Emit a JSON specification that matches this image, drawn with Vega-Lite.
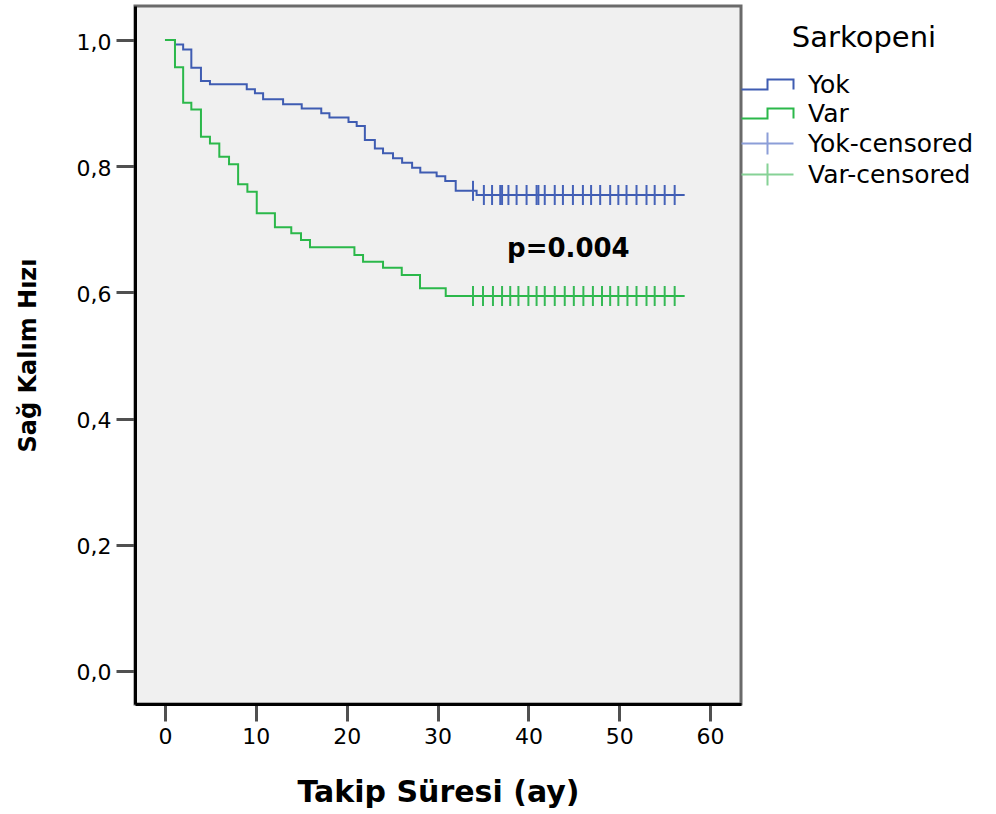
{
  "$schema": "https://vega.github.io/schema/vega-lite/v6.json",
  "autosize": {"type": "none"},
  "width": 606,
  "height": 698,
  "padding": {"left": 135, "top": 6, "right": 255, "bottom": 110},
  "background": "white",
  "config": {
    "view": {"fill": "#f0f0f0", "stroke": "#6a6a6a", "strokeWidth": 3},
    "axis": {
      "domainColor": "black", "domainWidth": 3,
      "tickColor": "#505050", "tickWidth": 3,
      "labelFont": "DejaVu Sans", "labelFontSize": 22, "labelColor": "black",
      "titleFont": "DejaVu Sans", "titleFontWeight": "bold", "titleColor": "black",
      "grid": false, "labelFlush": false, "labelOverlap": false
    }
  },
  "datasets": {
    "curves": [
      {"t": 0, "s": 1.0, "series": "Yok"},
      {"t": 1.1, "s": 0.993, "series": "Yok"},
      {"t": 2.0, "s": 0.985, "series": "Yok"},
      {"t": 2.9, "s": 0.956, "series": "Yok"},
      {"t": 3.96, "s": 0.935, "series": "Yok"},
      {"t": 4.95, "s": 0.930, "series": "Yok"},
      {"t": 9.0, "s": 0.922, "series": "Yok"},
      {"t": 9.9, "s": 0.9155, "series": "Yok"},
      {"t": 10.8, "s": 0.906, "series": "Yok"},
      {"t": 13.0, "s": 0.898, "series": "Yok"},
      {"t": 15.05, "s": 0.8916, "series": "Yok"},
      {"t": 17.2, "s": 0.884, "series": "Yok"},
      {"t": 18.1, "s": 0.877, "series": "Yok"},
      {"t": 20.2, "s": 0.870, "series": "Yok"},
      {"t": 21.1, "s": 0.8637, "series": "Yok"},
      {"t": 22.0, "s": 0.8415, "series": "Yok"},
      {"t": 23.1, "s": 0.828, "series": "Yok"},
      {"t": 24.0, "s": 0.8205, "series": "Yok"},
      {"t": 25.1, "s": 0.8125, "series": "Yok"},
      {"t": 26.1, "s": 0.8056, "series": "Yok"},
      {"t": 27.2, "s": 0.7977, "series": "Yok"},
      {"t": 28.1, "s": 0.790, "series": "Yok"},
      {"t": 29.9, "s": 0.784, "series": "Yok"},
      {"t": 30.85, "s": 0.7765, "series": "Yok"},
      {"t": 32.0, "s": 0.761, "series": "Yok"},
      {"t": 34.3, "s": 0.7544, "series": "Yok"},
      {"t": 57.2, "s": 0.7544, "series": "Yok"},
      {"t": 0, "s": 1.0, "series": "Var"},
      {"t": 1.1, "s": 0.957, "series": "Var"},
      {"t": 2.0, "s": 0.9007, "series": "Var"},
      {"t": 2.9, "s": 0.890, "series": "Var"},
      {"t": 3.96, "s": 0.8468, "series": "Var"},
      {"t": 4.95, "s": 0.836, "series": "Var"},
      {"t": 5.98, "s": 0.815, "series": "Var"},
      {"t": 7.05, "s": 0.803, "series": "Var"},
      {"t": 8.05, "s": 0.7713, "series": "Var"},
      {"t": 9.07, "s": 0.7596, "series": "Var"},
      {"t": 10.1, "s": 0.7253, "series": "Var"},
      {"t": 12.1, "s": 0.7031, "series": "Var"},
      {"t": 13.9, "s": 0.6936, "series": "Var"},
      {"t": 14.97, "s": 0.683, "series": "Var"},
      {"t": 15.96, "s": 0.6714, "series": "Var"},
      {"t": 20.85, "s": 0.6593, "series": "Var"},
      {"t": 21.8, "s": 0.6487, "series": "Var"},
      {"t": 24.0, "s": 0.6392, "series": "Var"},
      {"t": 26.06, "s": 0.6276, "series": "Var"},
      {"t": 28.07, "s": 0.6065, "series": "Var"},
      {"t": 30.9, "s": 0.5943, "series": "Var"},
      {"t": 57.2, "s": 0.5943, "series": "Var"}
    ],
    "censored": [
      {"t": 33.9, "s": 0.761, "series": "Yok-censored"},
      {"t": 35.1, "s": 0.7544, "series": "Yok-censored"},
      {"t": 36.0, "s": 0.7544, "series": "Yok-censored"},
      {"t": 36.9, "s": 0.7544, "series": "Yok-censored"},
      {"t": 37.1, "s": 0.7544, "series": "Yok-censored"},
      {"t": 37.8, "s": 0.7544, "series": "Yok-censored"},
      {"t": 38.7, "s": 0.7544, "series": "Yok-censored"},
      {"t": 39.8, "s": 0.7544, "series": "Yok-censored"},
      {"t": 40.9, "s": 0.7544, "series": "Yok-censored"},
      {"t": 41.1, "s": 0.7544, "series": "Yok-censored"},
      {"t": 41.8, "s": 0.7544, "series": "Yok-censored"},
      {"t": 42.9, "s": 0.7544, "series": "Yok-censored"},
      {"t": 43.8, "s": 0.7544, "series": "Yok-censored"},
      {"t": 44.9, "s": 0.7544, "series": "Yok-censored"},
      {"t": 46.0, "s": 0.7544, "series": "Yok-censored"},
      {"t": 46.9, "s": 0.7544, "series": "Yok-censored"},
      {"t": 47.9, "s": 0.7544, "series": "Yok-censored"},
      {"t": 49.0, "s": 0.7544, "series": "Yok-censored"},
      {"t": 49.9, "s": 0.7544, "series": "Yok-censored"},
      {"t": 50.8, "s": 0.7544, "series": "Yok-censored"},
      {"t": 51.9, "s": 0.7544, "series": "Yok-censored"},
      {"t": 53.0, "s": 0.7544, "series": "Yok-censored"},
      {"t": 53.9, "s": 0.7544, "series": "Yok-censored"},
      {"t": 55.0, "s": 0.7544, "series": "Yok-censored"},
      {"t": 56.1, "s": 0.7544, "series": "Yok-censored"},
      {"t": 33.9, "s": 0.5943, "series": "Var-censored"},
      {"t": 35.0, "s": 0.5943, "series": "Var-censored"},
      {"t": 36.1, "s": 0.5943, "series": "Var-censored"},
      {"t": 37.1, "s": 0.5943, "series": "Var-censored"},
      {"t": 38.0, "s": 0.5943, "series": "Var-censored"},
      {"t": 38.9, "s": 0.5943, "series": "Var-censored"},
      {"t": 40.0, "s": 0.5943, "series": "Var-censored"},
      {"t": 40.9, "s": 0.5943, "series": "Var-censored"},
      {"t": 41.8, "s": 0.5943, "series": "Var-censored"},
      {"t": 42.9, "s": 0.5943, "series": "Var-censored"},
      {"t": 44.0, "s": 0.5943, "series": "Var-censored"},
      {"t": 45.0, "s": 0.5943, "series": "Var-censored"},
      {"t": 46.05, "s": 0.5943, "series": "Var-censored"},
      {"t": 47.1, "s": 0.5943, "series": "Var-censored"},
      {"t": 48.1, "s": 0.5943, "series": "Var-censored"},
      {"t": 49.0, "s": 0.5943, "series": "Var-censored"},
      {"t": 49.9, "s": 0.5943, "series": "Var-censored"},
      {"t": 50.9, "s": 0.5943, "series": "Var-censored"},
      {"t": 51.9, "s": 0.5943, "series": "Var-censored"},
      {"t": 53.0, "s": 0.5943, "series": "Var-censored"},
      {"t": 53.9, "s": 0.5943, "series": "Var-censored"},
      {"t": 55.0, "s": 0.5943, "series": "Var-censored"},
      {"t": 56.1, "s": 0.5943, "series": "Var-censored"}
    ],
    "annot": [{"t": 44.4, "s": 0.6566, "label": "p=0.004"}]
  },
  "layer": [
    {
      "data": {"name": "curves"},
      "mark": {"type": "line", "interpolate": "step-after", "strokeWidth": 2},
      "encoding": {
        "x": {
          "field": "t", "type": "quantitative",
          "scale": {"domain": [-3.3, 63.4], "nice": false, "zero": false},
          "axis": {
            "values": [0, 10, 20, 30, 40, 50, 60], "tickSize": 17, "labelPadding": 5,
            "title": "Takip Süresi (ay)", "titleFontSize": 30,
            "titleBaseline": "alphabetic", "titleY": 97
          }
        },
        "y": {
          "field": "s", "type": "quantitative",
          "scale": {"domain": [-0.0523, 1.0539], "nice": false, "zero": false},
          "axis": {
            "values": [0, 0.2, 0.4, 0.6, 0.8, 1.0], "tickSize": 19, "labelPadding": 5, "labelOffset": 2,
            "labelExpr": "replace(format(datum.value, '.1f'), '.', ',')",
            "title": "Sağ Kalım Hızı", "titleFontSize": 24,
            "titleBaseline": "alphabetic", "titleX": -100, "titleY": 349
          }
        },
        "color": {
          "field": "series", "type": "nominal",
          "scale": {
            "domain": ["Yok", "Var", "Yok-censored", "Var-censored"],
            "range": ["#3f5cb2", "#2bb84a", "#8c9ed8", "#86d296"]
          },
          "legend": {
            "title": "Sarkopeni",
            "orient": "none", "legendX": 620, "legendY": 18,
            "padding": 0,
            "titleFont": "DejaVu Sans", "titleFontSize": 29, "titleFontWeight": "normal", "titleColor": "black",
            "titleAnchor": "middle", "titlePadding": 19,
            "labelFont": "DejaVu Sans", "labelFontSize": 25, "labelColor": "black", "labelOffset": 28, "labelLimit": 400,
            "symbolSize": 400, "symbolStrokeWidth": 2, "rowPadding": 0,
            "encode": {
              "symbols": {
                "update": {
                  "shape": {"signal": "indexof(datum.value, 'censored') >= 0 ? 'M-2.6,0L2.6,0M0,-1.1L0,1.1' : 'M0,-1M0,1M-2.6,0.5L0,0.5L0,-0.5L2.6,-0.5L2.6,0.5'"},
                  "fillOpacity": {"value": 0},
                  "strokeWidth": {"value": 2}
                }
              }
            }
          }
        }
      }
    },
    {
      "data": {"name": "censored"},
      "mark": {"type": "tick", "size": 20, "thickness": 2, "opacity": 1},
      "encoding": {
        "x": {"field": "t", "type": "quantitative"},
        "y": {"field": "s", "type": "quantitative"},
        "color": {
          "condition": {"test": "datum.series == 'Yok-censored'", "value": "#4562b8"},
          "value": "#35b955"
        }
      }
    },
    {
      "data": {"name": "annot"},
      "mark": {"type": "text", "font": "DejaVu Sans", "fontWeight": "bold", "fontSize": 26, "align": "center", "baseline": "alphabetic", "color": "black"},
      "encoding": {
        "x": {"field": "t", "type": "quantitative"},
        "y": {"field": "s", "type": "quantitative"},
        "text": {"field": "label"}
      }
    }
  ]
}
